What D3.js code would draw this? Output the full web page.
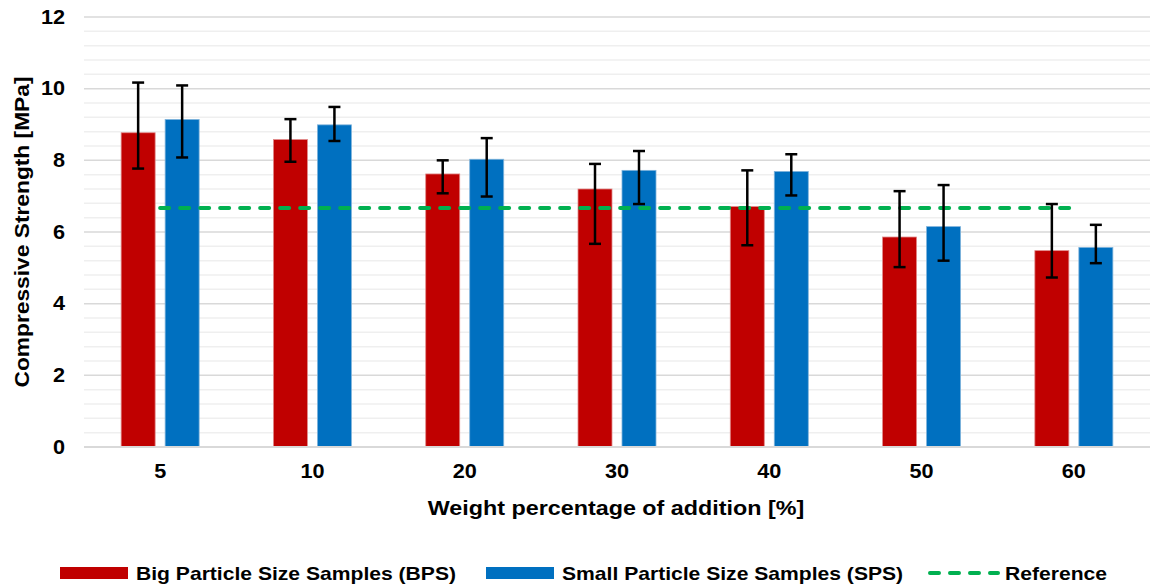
<!DOCTYPE html>
<html>
<head>
<meta charset="utf-8">
<script src="https://cdn.jsdelivr.net/npm/d3@7"></script>
<style>
  body { margin: 0; background: #fff; }
  text { font-family: "Liberation Sans", Arial, sans-serif; font-weight: bold; }
</style>
</head>
<body>
<div id="plot"></div>
<script>
// Data
var categories = ["5", "10", "20", "30", "40", "50", "60"];
var bpsValues = [8.77, 8.58, 7.62, 7.20, 6.71, 5.86, 5.48];
var bpsUpper = [10.17, 9.15, 8.00, 7.90, 7.72, 7.14, 6.78];
var bpsLower = [7.77, 7.96, 7.08, 5.67, 5.63, 5.02, 4.73];
var spsValues = [9.14, 8.99, 8.03, 7.72, 7.69, 6.15, 5.57];
var spsUpper = [10.09, 9.49, 8.62, 8.26, 8.17, 7.31, 6.20];
var spsLower = [8.08, 8.54, 6.99, 6.78, 7.02, 5.20, 5.13];
var referenceValues = [6.67, 6.67, 6.67, 6.67, 6.67, 6.67, 6.67];
var yTicks = [0, 2, 4, 6, 8, 10, 12];
var seriesNames = ["Big Particle Size Samples (BPS)", "Small Particle Size Samples (SPS)", "Reference"];

var W = 1150, H = 588;
var margin = { top: 17, right: 0, bottom: 141, left: 84 },
    width = W - margin.left - margin.right,
    height = H - margin.top - margin.bottom;

// the original text looks a bit wider than Arial bold
var stretch = 1.11;

var svg = d3.select("div#plot")
    .append("svg")
    .attr("width", W)
    .attr("height", H);

var g = svg.append("g")
    .attr("transform", "translate(" + margin.left + "," + margin.top + ")");

var xScale = d3.scaleBand().domain(categories).range([0, width]);
var yScale = d3.scaleLinear().domain([0, 12]).range([height, 0]);

// minor gridlines
var minor = d3.range(0, 12.01, 0.4).filter(function (v) { return Math.abs(v / 2 - Math.round(v / 2)) > 0.01; });
g.selectAll(".minor").data(minor).enter().append("line")
    .attr("x1", 0).attr("x2", width)
    .attr("y1", function (d) { return yScale(d); })
    .attr("y2", function (d) { return yScale(d); })
    .attr("stroke", "#efefef").attr("stroke-width", 1.5);

// major gridlines
g.selectAll(".major").data(yTicks).enter().append("line")
    .attr("x1", 0).attr("x2", width)
    .attr("y1", function (d) { return yScale(d); })
    .attr("y2", function (d) { return yScale(d); })
    .attr("stroke", "#d9d9d9").attr("stroke-width", 1.5);

// y axis labels
var yAxis = d3.axisLeft(yScale).tickValues(yTicks).tickSize(0).tickPadding(19);
g.append("g").call(yAxis)
    .call(function (s) { s.select(".domain").remove(); })
    .selectAll("text")
    .style("font-size", "19.5px").attr("fill", "#000");

// x axis labels
var xAxis = d3.axisBottom(xScale).tickSize(0).tickPadding(17);
g.append("g").attr("transform", "translate(0," + height + ")").call(xAxis)
    .call(function (s) { s.select(".domain").remove(); })
    .selectAll("text")
    .style("font-size", "19.5px").attr("fill", "#000");

var barW = 34, gap = 10;
var series = [
    { vals: bpsValues, up: bpsUpper, lo: bpsLower, color: "#C00000", stroke: "#e08a8a", off: -(gap / 2 + barW) },
    { vals: spsValues, up: spsUpper, lo: spsLower, color: "#0070C0", stroke: "#7fb3db", off: gap / 2 }
];

series.forEach(function (s) {
    g.selectAll(null).data(categories).enter().append("rect")
        .attr("x", function (d) { return xScale(d) + xScale.bandwidth() / 2 + s.off; })
        .attr("y", function (d, i) { return yScale(s.vals[i]); })
        .attr("width", barW)
        .attr("height", function (d, i) { return height - yScale(s.vals[i]); })
        .attr("fill", s.color)
        .attr("stroke", s.stroke).attr("stroke-width", 0.8);
});

// baseline
g.append("line").attr("x1", 0).attr("x2", width)
    .attr("y1", height).attr("y2", height)
    .attr("stroke", "#d9d9d9").attr("stroke-width", 2);

// reference line
var line = d3.line()
    .x(function (d, i) { return xScale(categories[i]) + xScale.bandwidth() / 2; })
    .y(function (d) { return yScale(d); });
g.append("path").datum(referenceValues)
    .attr("d", line)
    .attr("fill", "none")
    .attr("stroke", "#00B050").attr("stroke-width", 4)
    .attr("stroke-dasharray", "9,11").attr("stroke-linecap", "round");

// error bars
series.forEach(function (s) {
    var eb = g.selectAll(null).data(categories).enter().append("g")
        .attr("transform", function (d) { return "translate(" + (xScale(d) + xScale.bandwidth() / 2 + s.off + barW / 2) + ",0)"; });
    eb.append("line")
        .attr("y1", function (d, i) { return yScale(s.up[i]); })
        .attr("y2", function (d, i) { return yScale(s.lo[i]); })
        .attr("stroke", "#000").attr("stroke-width", 2.5);
    [s.up, s.lo].forEach(function (arr) {
        eb.append("line")
            .attr("x1", -6).attr("x2", 6)
            .attr("y1", function (d, i) { return yScale(arr[i]); })
            .attr("y2", function (d, i) { return yScale(arr[i]); })
            .attr("stroke", "#000").attr("stroke-width", 2.5);
    });
});

// axis titles
svg.append("text")
    .attr("x", margin.left + width / 2 - 1).attr("y", 515)
    .attr("text-anchor", "middle")
    .style("font-size", "21px")
    .text("Weight percentage of addition [%]");

svg.append("text")
    .attr("transform", "translate(29," + (margin.top + height / 2) + ") rotate(-90)")
    .attr("text-anchor", "middle")
    .style("font-size", "20.5px")
    .text("Compressive Strength [MPa]");

// legend
var legend = svg.append("g").attr("transform", "translate(0,573)");
var legendX = [60, 486, 928];
seriesNames.forEach(function (name, i) {
    var lg = legend.append("g").attr("transform", "translate(" + legendX[i] + ",0)");
    if (i < 2) {
        lg.append("rect").attr("x", 0).attr("y", -6).attr("width", 68).attr("height", 12)
            .attr("fill", series[i].color);
    } else {
        lg.append("line").attr("x1", 2).attr("x2", 70).attr("y1", 0).attr("y2", 0)
            .attr("stroke", "#00B050").attr("stroke-width", 4)
            .attr("stroke-dasharray", "9,11").attr("stroke-linecap", "round");
    }
    lg.append("text").attr("x", i < 2 ? 76 : 77).attr("y", 7)
        .style("font-size", "19px")
        .text(name);
});

// widen every label a little to match the original lettering
svg.selectAll("text").each(function () {
    var len = this.getComputedTextLength();
    d3.select(this).attr("textLength", len * stretch).attr("lengthAdjust", "spacingAndGlyphs");
});
</script>
</body>
</html>
